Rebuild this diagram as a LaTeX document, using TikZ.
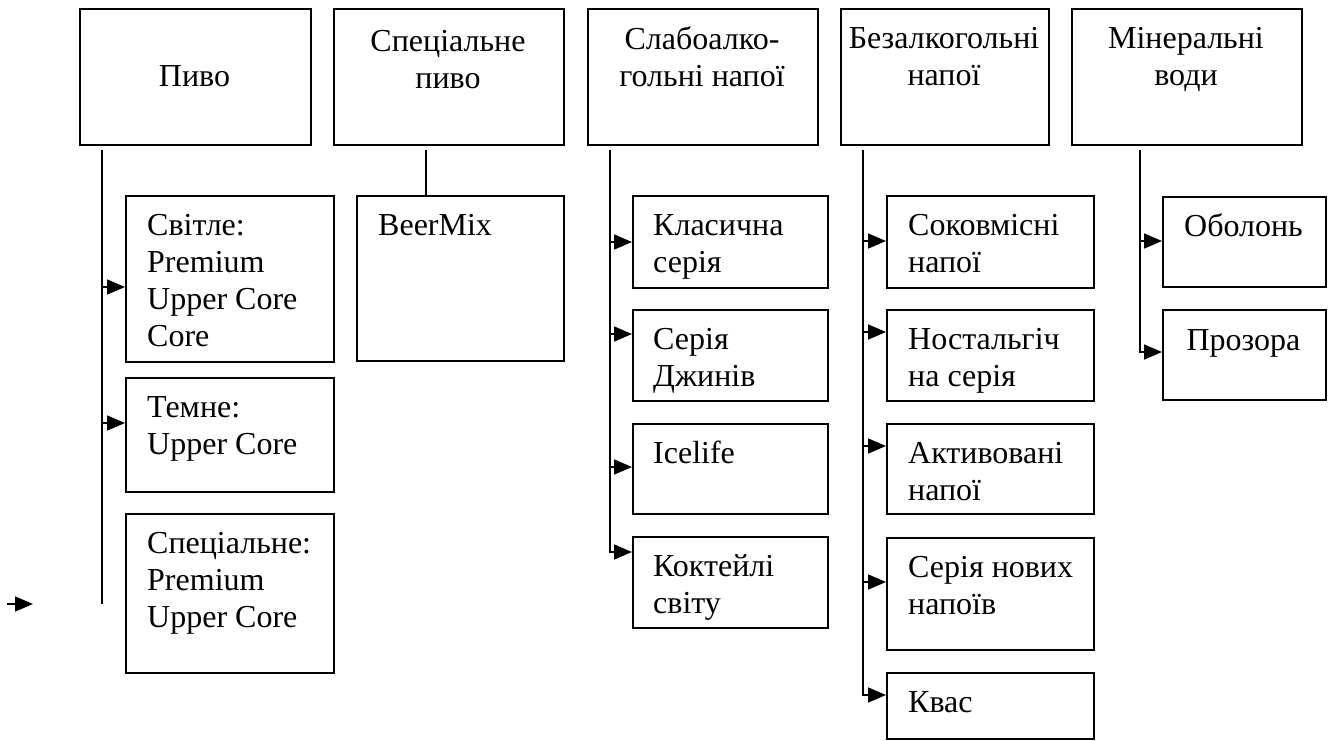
\documentclass[tikz,border=0pt]{standalone}
\usepackage{fontspec}
\setmainfont{Liberation Serif}
\usetikzlibrary{arrows.meta}
\tikzset{
  box/.style={draw, line width=1.8pt, inner sep=0pt, anchor=north west},
  % multi-line nodes: the base anchor is the baseline of the last line
  ctext/.style={anchor=base, align=center, inner sep=0pt, font=\fontsize{32}{37}\selectfont},
  ltext/.style={anchor=base west, align=left, inner sep=0pt, font=\fontsize{32}{37}\selectfont},
  link/.style={line width=1.7pt},
  arr/.style={line width=1.7pt, -{Triangle[length=18pt,width=15pt]}},
}
\newcommand{\bx}[5]{\node[box, minimum width=#4pt, minimum height=#5pt] (#1) at (#2,#3) {};}
\begin{document}
\begin{tikzpicture}[x=1pt,y=-1pt]
\useasboundingbox (0,0) rectangle (1331,740);
% top boxes
\bx{piv}{79}{8}{231}{136}
\bx{spp}{333}{8}{230}{136}
\bx{slab}{587}{8}{230}{136}
\bx{bez}{840}{8}{208}{136}
\bx{mine}{1071}{8}{230}{136}
\node[ctext] (piv-t) at (194.5,86) {Пиво};
\node[ctext] (spp-t) at (448,88) {Спеціальне\\пиво};
\node[ctext] (slab-t) at (702,86) {Слабоалко-\\гольні напої};
\node[ctext] (bez-t) at (944,85) {Безалкогольні\\напої};
\node[ctext] (mine-t) at (1186,85) {Мінеральні\\води};
% children
\bx{svit}{125}{195}{208}{166}
\bx{temn}{125}{377}{208}{114}
\bx{spec}{125}{513}{208}{159}
\bx{beer}{356}{195}{207}{165}
\bx{klas}{632}{195}{195}{92}
\bx{dzh}{632}{309}{195}{91}
\bx{ice}{632}{423}{195}{90}
\bx{kokt}{632}{536}{195}{91}
\bx{sok}{886}{195}{207}{92}
\bx{nost}{886}{309}{207}{91}
\bx{akt}{886}{423}{207}{90}
\bx{nov}{886}{537}{207}{112}
\bx{kvas}{886}{672}{207}{66}
\bx{obol}{1162}{196}{163}{90}
\bx{proz}{1162}{309}{163}{90}
\node[ltext] (svit-t) at (147,346) {Світле:\\Premium\\Upper Core\\Core};
\node[ltext] (temn-t) at (147,454) {Темне:\\Upper Core};
\node[ltext] (spec-t) at (147,627) {Спеціальне:\\Premium\\Upper Core};
\node[ltext] (beer-t) at (378,235) {BeerMix};
\node[ltext] (klas-t) at (653,272) {Класична\\серія};
\node[ltext] (dzh-t) at (653,386) {Серія\\Джинів};
\node[ltext] (ice-t) at (653,463) {Icelife};
\node[ltext] (kokt-t) at (653,613) {Коктейлі\\світу};
\node[ltext] (sok-t) at (908,272) {Соковмісні\\напої};
\node[ltext] (nost-t) at (908,386) {Ностальгіч\\на серія};
\node[ltext] (akt-t) at (908,500) {Активовані\\напої};
\node[ltext] (nov-t) at (908,614) {Серія нових\\напоїв};
\node[ltext] (kvas-t) at (908,712) {Квас};
\node[ctext] (obol-t) at (1243.5,236) {Оболонь};
\node[ctext] (proz-t) at (1243.5,350) {Прозора};
% trunks
\coordinate (t1) at (102,150);
\coordinate (t1e) at (102,604);
\coordinate (t2) at (426,150);
\coordinate (t3) at (610,150);
\coordinate (t4) at (863,150);
\coordinate (t5) at (1140,150);
% arrow end points on the boxes' left sides
\coordinate (a-svit) at (125,287);
\coordinate (a-temn) at (125,423);
\coordinate (a-klas) at (632,242);
\coordinate (a-dzh) at (632,334);
\coordinate (a-ice) at (632,467);
\coordinate (a-kokt) at (632,552);
\coordinate (a-sok) at (886,241);
\coordinate (a-nost) at (886,332);
\coordinate (a-akt) at (886,446);
\coordinate (a-nov) at (886,582);
\coordinate (a-kvas) at (886,695);
\coordinate (a-obol) at (1162,241);
\coordinate (a-proz) at (1162,352);
\coordinate (s1) at (7,604);
\coordinate (s2) at (33,604);
\draw[link] (t1) -- (t1e);
\draw[arr] (t1 |- a-svit) -- (a-svit);
\draw[arr] (t1 |- a-temn) -- (a-temn);
\draw[link] (t2) -- (t2 |- beer.north);
\draw[arr] (t3) |- (a-kokt);
\draw[arr] (t3 |- a-klas) -- (a-klas);
\draw[arr] (t3 |- a-dzh) -- (a-dzh);
\draw[arr] (t3 |- a-ice) -- (a-ice);
\draw[arr] (t4) |- (a-kvas);
\draw[arr] (t4 |- a-sok) -- (a-sok);
\draw[arr] (t4 |- a-nost) -- (a-nost);
\draw[arr] (t4 |- a-akt) -- (a-akt);
\draw[arr] (t4 |- a-nov) -- (a-nov);
\draw[arr] (t5) |- (a-proz);
\draw[arr] (t5 |- a-obol) -- (a-obol);
\draw[arr] (s1) -- (s2);
\end{tikzpicture}
\end{document}
